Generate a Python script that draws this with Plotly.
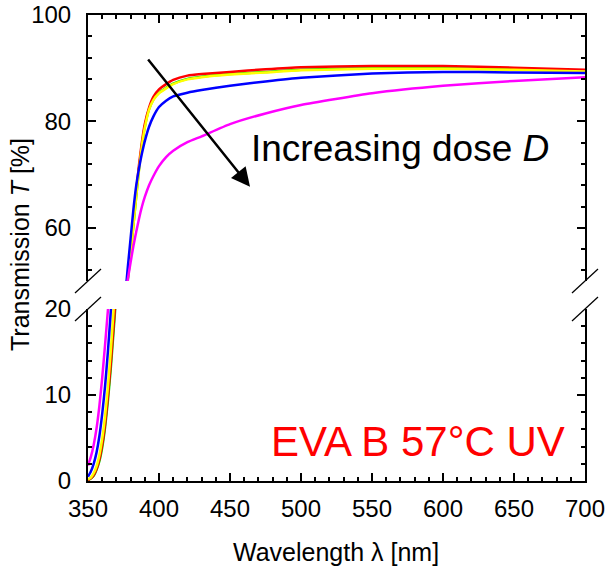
import plotly.graph_objects as go

# ---------------- data ----------------
wavelength = [350, 352, 354, 356, 358, 360, 362, 364, 366, 368, 370, 372, 374, 376, 378,
              380, 382, 384, 386, 388, 390, 393, 396, 400, 405, 410, 420, 430, 450,
              475, 500, 550, 600, 650, 700]

T_green = [0.1, 0.3, 0.6, 1.3, 2.3, 3.9, 6.2, 9.3, 13.0, 17.4, 22.0, 28.0, 35.0, 42.5, 50.0,
           55.0, 60.5, 66.0, 71.3, 75.6, 79.0, 82.3, 84.1, 85.4, 86.3, 87.1, 88.0, 88.4, 88.9,
           89.3, 89.7, 90.0, 90.0, 89.8, 89.5]

T_red = [0.1, 0.3, 0.7, 1.4, 2.5, 4.2, 6.6, 9.8, 13.6, 18.0, 22.5, 29.0, 36.0, 43.5, 50.5,
         56.0, 61.5, 67.0, 72.0, 76.2, 79.5, 82.6, 84.6, 86.0, 87.0, 87.8, 88.6, 88.9, 89.3,
         89.8, 90.2, 90.4, 90.4, 90.1, 89.7]

T_yellow = [0.2, 0.4, 0.9, 1.7, 3.0, 4.9, 7.5, 10.9, 15.0, 19.8, 25.0, 31.0, 37.5, 44.0, 50.5,
            55.0, 60.5, 66.0, 71.0, 75.5, 78.8, 82.2, 84.0, 85.3, 86.2, 87.0, 87.9, 88.3, 88.8,
            89.2, 89.6, 89.9, 89.9, 89.7, 89.4]

T_blue = [0.5, 1.1, 2.0, 3.3, 5.2, 7.8, 11.0, 15.0, 19.6, 24.5, 29.5, 35.0, 40.5, 46.5, 52.5,
          58.0, 63.5, 68.0, 71.3, 74.0, 76.3, 79.0, 80.9, 82.7, 83.9, 84.7, 85.4, 85.9, 86.7,
          87.5, 88.2, 89.0, 89.3, 89.2, 89.1]

T_magenta = [1.8, 2.8, 4.2, 6.1, 8.7, 12.0, 15.8, 19.8, 24.0, 28.5, 33.0, 37.5, 42.0, 46.5, 50.3,
             53.5, 56.6, 59.3, 61.8, 64.0, 65.8, 68.0, 69.7, 71.6, 73.3, 74.5, 76.1, 77.2, 79.5,
             81.5, 83.1, 85.3, 86.7, 87.6, 88.3]

series_names = ["green", "red", "yellow", "blue", "magenta"]
series_values = [T_green, T_red, T_yellow, T_blue, T_magenta]
series_colors = ["#00DD00", "#FF0000", "#FFFF00", "#0000FF", "#FF00FF"]

x_ticks = [350, 400, 450, 500, 550, 600, 650, 700]

# ---------------- figure ----------------
FONT = "Liberation Sans, Arial, sans-serif"
W, H = 606, 569
ml, mr, mt, mb = 88, 21, 15, 88
plot_w = W - ml - mr
plot_h = H - mt - mb  # 466

def paper_y(py):
    return (H - mb - py) / plot_h

def paper_x(px):
    return (px - ml) / plot_w

up_bottom = paper_y(281)
low_top = paper_y(309)

fig = go.Figure()
for name, vals, col in zip(series_names, series_values, series_colors):
    for xa, ya in (("x", "y"), ("x2", "y2")):
        fig.add_trace(go.Scatter(
            x=wavelength, y=vals, mode="lines", name=name,
            line=dict(color=col, width=2.5, shape="spline", smoothing=0.5),
            xaxis=xa, yaxis=ya, showlegend=False, hoverinfo="skip"))

axis_common = dict(
    showline=True, linewidth=2, linecolor="black",
    ticks="inside", ticklen=8, tickwidth=2, tickcolor="black",
    showgrid=False, zeroline=False, automargin=False,
    tickfont=dict(family=FONT, size=24, color="black"),
)
minor_x = dict(dtick=10, ticks="inside", ticklen=4, tickwidth=2, tickcolor="black")

fig.update_layout(
    width=W, height=H,
    margin=dict(l=ml, r=mr, t=mt, b=mb, autoexpand=False),
    paper_bgcolor="white", plot_bgcolor="white",
    font=dict(family=FONT, color="black"),
    xaxis=dict(**axis_common, range=[350, 700], tickvals=x_ticks, anchor="y",
               minor=minor_x, ticklabelstandoff=5),
    xaxis2=dict(**axis_common, range=[350, 700], tickvals=x_ticks, anchor="y2", side="top",
                matches="x", showticklabels=False, minor=minor_x),
    yaxis=dict(**axis_common, range=[0, 20], domain=[0, low_top], dtick=10, anchor="x",
               mirror="ticks", ticklabelstandoff=10,
               minor=dict(dtick=2, ticks="inside", ticklen=4, tickwidth=2, tickcolor="black")),
    yaxis2=dict(**axis_common, range=[50, 100], domain=[up_bottom, 1], tick0=0, dtick=20,
                anchor="x2", mirror="ticks", ticklabelstandoff=10,
                minor=dict(tick0=0, dtick=4, ticks="inside", ticklen=4, tickwidth=2, tickcolor="black")),
)

# axis break marks
for xp in (0, 1):
    for yp in (up_bottom, low_top):
        fig.add_shape(type="line", xref="paper", yref="paper",
                      xsizemode="pixel", ysizemode="pixel", xanchor=xp, yanchor=yp,
                      x0=-13, x1=13, y0=-12, y1=12,
                      line=dict(color="black", width=1.2))

# axis titles
fig.add_annotation(text="Transmission <i>T</i> [%]", xref="paper", yref="paper",
                   x=paper_x(20), y=paper_y(245), textangle=-90,
                   showarrow=False, xanchor="center", yanchor="middle",
                   font=dict(family=FONT, size=25, color="black"))
fig.add_annotation(text="Wavelength \u03bb [nm]", xref="paper", yref="paper",
                   x=paper_x(336), y=paper_y(552), showarrow=False, xanchor="center", yanchor="middle",
                   font=dict(family=FONT, size=25, color="black"))

# labels inside plot
fig.add_annotation(text="Increasing dose <i>D</i>", xref="paper", yref="paper",
                   x=paper_x(249), y=paper_y(148), showarrow=False,
                   xanchor="left", yanchor="middle",
                   font=dict(family=FONT, size=37, color="black"))
fig.add_annotation(text="EVA B 57\u00b0C UV", xref="paper", yref="paper",
                   x=paper_x(567), y=paper_y(441), showarrow=False,
                   xanchor="right", yanchor="middle",
                   font=dict(family=FONT, size=42, color="#FF0000"))

# arrow
fig.add_annotation(x=464.1, y=67.7, xref="x2", yref="y2",
                   ax=391.5, ay=91.9, axref="x2", ayref="y2",
                   text="", showarrow=True, arrowhead=2, arrowsize=1.5,
                   arrowwidth=2.5, arrowcolor="black", standoff=0)

fig.write_html("out.html")
